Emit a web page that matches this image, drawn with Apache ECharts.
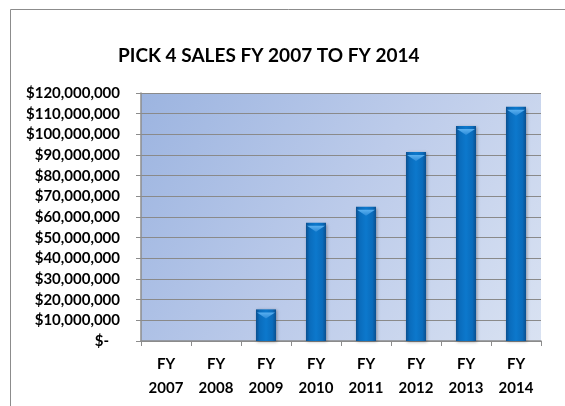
<!DOCTYPE html>
<html>
<head>
<meta charset="utf-8">
<script src="https://cdn.jsdelivr.net/npm/echarts@6/dist/echarts.min.js"></script>
<style>
  html, body { margin: 0; padding: 0; background: #ffffff; }
  #chart { width: 565px; height: 406px; }
</style>
</head>
<body>
<div id="chart"></div>
<script>
// Fiscal years and Pick 4 sales (USD)
const years = ['FY\n2007', 'FY\n2008', 'FY\n2009', 'FY\n2010', 'FY\n2011', 'FY\n2012', 'FY\n2013', 'FY\n2014'];
const sales = [0, 0, 15300000, 57200000, 65000000, 91400000, 104000000, 113400000];
const yTicks = { min: 0, max: 120000000, interval: 10000000 };
const titleText = 'PICK 4 SALES FY 2007 TO FY 2014';

// Accounting-style money labels; zero shows as "$-" with a trailing gap
function money(v) {
  if (v === 0) return '{z|$-}';
  return '$' + v.toLocaleString('en-US');
}

const labelFont = { fontFamily: 'Lato', fontWeight: 'bold', fontSize: 15, color: '#000' };

const chart = echarts.init(document.getElementById('chart'), null, { renderer: 'canvas' });
chart.setOption({
  animation: false,
  backgroundColor: '#ffffff',
  textStyle: { fontFamily: 'Lato' },
  graphic: [{
    type: 'rect',
    z: -10,
    shape: { x: 10.5, y: 9.5, width: 600, height: 450 },
    style: { fill: 'none', stroke: '#8c8c8c', lineWidth: 1 }
  }],
  title: {
    text: titleText,
    left: 113,
    top: 41,
    textStyle: { fontFamily: 'Lato', fontWeight: 'bold', fontSize: 19, color: '#000' }
  },
  grid: {
    left: 141, right: 24, top: 93, bottom: 65,
    show: true,
    borderWidth: 0,
    backgroundColor: new echarts.graphic.LinearGradient(0, 0, 1, 1, [
      { offset: 0, color: '#9cb4e0' },
      { offset: 0.5, color: '#bccbea' },
      { offset: 1, color: '#d9e2f2' }
    ])
  },
  xAxis: {
    type: 'category',
    data: years,
    boundaryGap: true,
    axisLine: { lineStyle: { color: '#8c8c8c', width: 1.5 } },
    axisTick: { show: true, alignWithLabel: false, length: 5, lineStyle: { color: '#8c8c8c' } },
    axisLabel: Object.assign({ margin: 11, lineHeight: 24 }, labelFont)
  },
  yAxis: {
    type: 'value',
    min: yTicks.min, max: yTicks.max, interval: yTicks.interval,
    axisLine: { show: true, lineStyle: { color: '#8c8c8c', width: 1.5 } },
    axisTick: { show: true, length: 5, lineStyle: { color: '#8c8c8c' } },
    splitLine: { show: true, lineStyle: { color: '#8a8a8a', width: 1 } },
    axisLabel: Object.assign({
      margin: 21,
      formatter: money,
      rich: { z: Object.assign({ padding: [0, 11, 0, 0] }, labelFont) }
    }, labelFont)
  },
  series: [{
    type: 'bar',
    data: sales,
    barWidth: 20,
    barGap: '-100%',
    itemStyle: {
      color: new echarts.graphic.LinearGradient(0, 0, 1, 0, [
        { offset: 0, color: '#0a4f8f' },
        { offset: 0.18, color: '#0a6cbc' },
        { offset: 0.5, color: '#0c78cc' },
        { offset: 0.82, color: '#0a6cbc' },
        { offset: 1, color: '#0a4f8f' }
      ]),
      shadowColor: 'rgba(0,0,0,0.35)',
      shadowBlur: 3,
      shadowOffsetX: 1,
      shadowOffsetY: 1
    }
  }, {
    // bevelled cap on top of each bar
    type: 'pictorialBar',
    data: sales.map(v => (v > 0 ? v : null)),
    symbol: 'path://M0,0 L20,0 L10,6 Z',
    symbolSize: [18, 6],
    symbolPosition: 'end',
    symbolOffset: [0, '50%'],
    barGap: '-100%',
    z: 3,
    itemStyle: {
      color: new echarts.graphic.LinearGradient(0, 0, 0, 1, [
        { offset: 0, color: '#5ab0f0' },
        { offset: 1, color: '#2a8ad8' }
      ])
    }
  }]
});
</script>
</body>
</html>
